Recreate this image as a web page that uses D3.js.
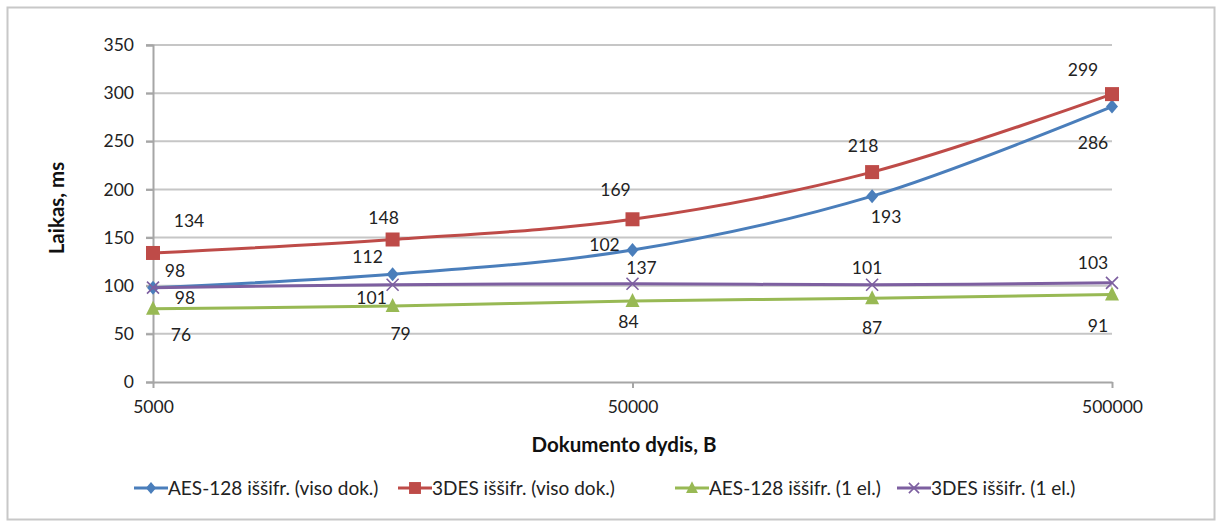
<!DOCTYPE html>
<html>
<head>
<meta charset="utf-8">
<script src="https://cdn.jsdelivr.net/npm/d3@7"></script>
<style>
  html, body { margin: 0; padding: 0; background: #fff; }
  svg { display: block; font-family: Lato, "Open Sans", sans-serif; }
</style>
</head>
<body>
<svg id="chart" width="1221" height="523"></svg>
<script>
// Document sizes (B), log-scaled x axis
const sizes = [5000, 15800, 50000, 158000, 500000];
const xTickValues = [5000, 50000, 500000];
const yTickValues = [0, 50, 100, 150, 200, 250, 300, 350];

// Decryption times, ms
const seriesNames = [
  "AES-128 iššifr. (viso dok.)",
  "3DES iššifr. (viso dok.)",
  "AES-128 iššifr. (1 el.)",
  "3DES iššifr. (1 el.)"
];
const aesWhole = [98, 112, 137, 193, 286];
const desWhole = [134, 148, 169, 218, 299];
const aesOne = [76, 79, 84, 87, 91];
const desOne = [98, 101, 102, 101, 103];

const colors = ["#4A7EBB", "#BE4B48", "#98B954", "#7D5FA0"];
const symbols = ["diamond", "square", "triangle", "x"];

// Pixel nudges of each data label relative to its point
const labelOffsets = [
  [[22, -17], [-25, -17], [9, 18], [14, 21], [-19, 36]],
  [[36, -32], [-9, -22], [-17, -29], [-9, -26], [-29, -24]],
  [[28, 26], [8, 28], [-4, 21], [0, 30], [-14, 31]],
  [[32, 10], [-21, 13], [-28, -39], [-5, -17], [-19, -20]]
];

const seriesValues = [aesWhole, desWhole, aesOne, desOne];

const svg = d3.select("#chart");

// Outer frame
svg.append("rect")
  .attr("x", 7.5).attr("y", 7.5)
  .attr("width", 1207).attr("height", 512)
  .attr("fill", "#fff")
  .attr("stroke", "#c8c8c8").attr("stroke-width", 2);

const x = d3.scaleLog().domain([5000, 500000]).range([153, 1112]);
const y = d3.scaleLinear().domain([0, 350]).range([382, 45]);

// Horizontal gridlines with tick stubs
svg.append("g")
  .selectAll("line")
  .data(yTickValues.filter(v => v > 0))
  .join("line")
  .attr("x1", 146).attr("x2", 1112)
  .attr("y1", d => y(d)).attr("y2", d => y(d))
  .attr("stroke", "#c6c6c6").attr("stroke-width", 2);

// Y axis
const yAxis = svg.append("g")
  .attr("transform", "translate(153,0)")
  .call(d3.axisLeft(y).tickValues(yTickValues).tickSize(7).tickPadding(12));
yAxis.select(".domain").attr("stroke", "#a6a6a6").attr("stroke-width", 2);
yAxis.selectAll(".tick line").attr("stroke", "#a6a6a6").attr("stroke-width", 2);
yAxis.selectAll("text")
  .attr("font-size", 17.5).attr("fill", "#222")
  .attr("font-family", "Lato, sans-serif");

// X axis
const xAxis = svg.append("g")
  .attr("transform", "translate(0,382)")
  .call(d3.axisBottom(x).tickValues(xTickValues).tickFormat(d3.format("d"))
    .tickSize(6).tickSizeOuter(0).tickPadding(13));
xAxis.select(".domain").attr("stroke", "#a6a6a6").attr("stroke-width", 2);
xAxis.selectAll(".tick line").attr("stroke", "#a6a6a6").attr("stroke-width", 2);
xAxis.selectAll("text")
  .attr("font-size", 17.5).attr("fill", "#222")
  .attr("font-family", "Lato, sans-serif");

// Axis titles
svg.append("text")
  .attr("x", 624).attr("y", 452)
  .attr("text-anchor", "middle")
  .attr("font-size", 20.5).attr("font-weight", "bold").attr("fill", "#111")
  .text("Dokumento dydis, B");

svg.append("text")
  .attr("transform", "translate(64,208) rotate(-90)")
  .attr("text-anchor", "middle")
  .attr("font-size", 20.5).attr("font-weight", "bold").attr("fill", "#111")
  .text("Laikas, ms");

// Marker drawing
function drawMarker(g, type, color, cx, cy, scale) {
  const s = scale || 1;
  if (type === "diamond") {
    g.append("path")
      .attr("d", `M${cx},${cy - 7 * s}L${cx + 6 * s},${cy}L${cx},${cy + 7 * s}L${cx - 6 * s},${cy}Z`)
      .attr("fill", color);
  } else if (type === "square") {
    g.append("rect")
      .attr("x", cx - 7 * s).attr("y", cy - 7 * s)
      .attr("width", 14 * s).attr("height", 14 * s)
      .attr("fill", color);
  } else if (type === "triangle") {
    g.append("path")
      .attr("d", `M${cx},${cy - 8 * s}L${cx + 7 * s},${cy + 6 * s}L${cx - 7 * s},${cy + 6 * s}Z`)
      .attr("fill", color);
  } else {
    g.append("path")
      .attr("d", `M${cx - 6 * s},${cy - 6 * s}L${cx + 6 * s},${cy + 6 * s}M${cx + 6 * s},${cy - 6 * s}L${cx - 6 * s},${cy + 6 * s}`)
      .attr("stroke", color).attr("stroke-width", 1.6).attr("fill", "none");
  }
}

const line = d3.line()
  .x((d, i) => x(sizes[i]))
  .y(d => y(d))
  .curve(d3.curveCatmullRom.alpha(0.5));

// Series lines and markers
seriesValues.forEach((vals, si) => {
  const g = svg.append("g");
  g.append("path")
    .attr("d", line(vals))
    .attr("fill", "none")
    .attr("stroke", colors[si])
    .attr("stroke-width", 3)
    .attr("stroke-linejoin", "round");
  vals.forEach((v, i) => drawMarker(g, symbols[si], colors[si], x(sizes[i]), y(v)));
});

// Data labels
seriesValues.forEach((vals, si) => {
  svg.append("g")
    .selectAll("text")
    .data(vals)
    .join("text")
    .attr("x", (d, i) => x(sizes[i]) + labelOffsets[si][i][0])
    .attr("y", (d, i) => y(d) + labelOffsets[si][i][1])
    .attr("dy", "0.35em")
    .attr("text-anchor", "middle")
    .attr("font-size", 17.5).attr("fill", "#222")
    .text(d => d);
});

// Legend
const legendX = [134, 398, 675, 897];
const legend = svg.append("g");
seriesNames.forEach((name, si) => {
  const lx = legendX[si], ly = 488;
  legend.append("line")
    .attr("x1", lx).attr("x2", lx + 34)
    .attr("y1", ly).attr("y2", ly)
    .attr("stroke", colors[si]).attr("stroke-width", 3);
  drawMarker(legend, symbols[si], colors[si], lx + 17, ly, 0.85);
  legend.append("text")
    .attr("x", lx + 34).attr("y", ly)
    .attr("dy", "0.35em")
    .attr("font-size", 19).attr("fill", "#222")
    .text(name);
});
</script>
</body>
</html>
